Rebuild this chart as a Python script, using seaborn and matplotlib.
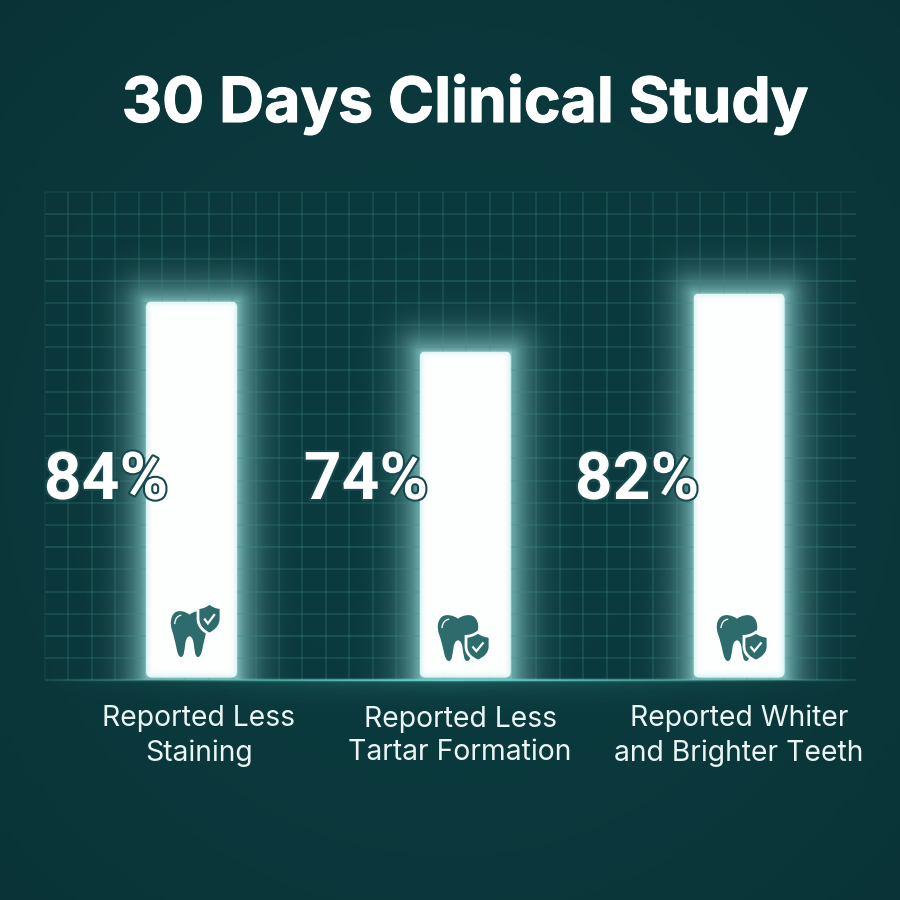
import numpy as np
import pandas as pd
import seaborn as sns
import matplotlib
matplotlib.use("Agg")
import matplotlib.pyplot as plt
import matplotlib.patheffects as pe
from matplotlib.patches import FancyBboxPatch, PathPatch
from matplotlib.path import Path
from matplotlib.transforms import Affine2D, IdentityTransform

# ===== Data =====
categories = ["Reported Less\nStaining", "Reported Less\nTartar Formation", "Reported Whiter\nand Brighter Teeth"]
bar_heights = [376, 326, 384]   # drawn height, does not follow the printed percent
pct_labels = ["84%", "74%", "82%"]
title = "30 Days Clinical Study"

BG = "#0b393d"
TEAL = "#2d6b6d"

sns.set_theme(style="dark")
plt.rcParams["font.family"] = ["Inter", "DejaVu Sans"]

fig = plt.figure(figsize=(9, 9), dpi=100, facecolor=BG)

# pixel axes for background, grid and glow
ax_bg = fig.add_axes([0, 0, 1, 1], zorder=0)
ax_bg.set_xlim(0, 900)
ax_bg.set_ylim(900, 0)
ax_bg.axis("off")

# bars: one y unit is one pixel, baseline at y=677.5
ax = fig.add_axes([54.7 / 900, (900 - 677.5) / 900, 821.25 / 900, 480 / 900], zorder=1)
df = pd.DataFrame({"claim": categories, "height": bar_heights})
sns.barplot(data=df, x="claim", y="height", color="#fdffff", saturation=1, width=0.332, ax=ax)
ax.set_xlim(-0.5, 2.5)
ax.set_ylim(0, 480)
ax.axis("off")

# overlay axes for text and icons
ax_top = fig.add_axes([0, 0, 1, 1], zorder=2)
ax_top.set_xlim(0, 900)
ax_top.set_ylim(900, 0)
ax_top.axis("off")

# ===== Background =====
yy, xx = np.mgrid[0:900, 0:900]
r = np.hypot((xx - 450) / 640, (yy - 470) / 640)
base = np.array([11, 59, 63])[None, None, :] * (1.0 - 0.14 * r[..., None] ** 2)
ax_bg.imshow(base.astype(np.uint8), extent=(0, 900, 900, 0), zorder=0, aspect="auto")

# ===== Glow around bars =====
boxes = []
glow = np.zeros((900, 900))
for bar in ax.patches:
    e = bar.get_window_extent()
    boxes.append((e.x0, 900 - e.y1, e.x1, 900 - e.y0))
    l, t, rr, b = boxes[-1]
    dx = np.maximum(np.maximum(l - xx, xx - rr), 0)
    dy = np.maximum(np.maximum(t - yy, yy - b), 0)
    d = np.hypot(dx, dy)
    g = (0.5 * np.exp(-(d / 24.0) ** 1.5) + 0.22 * np.exp(-d / 5.0)) * (yy <= b + 2)
    glow = np.maximum(glow, g)

glow_img = np.zeros((900, 900, 4))
glow_img[..., :3] = np.array([165, 232, 230]) / 255
glow_img[..., 3] = glow
ax_bg.imshow(glow_img, extent=(0, 900, 900, 0), zorder=1, aspect="auto")

# ===== Baseline under the bars =====
fade = np.clip(1 - np.abs(xx - 450) / 405, 0, 1) ** 0.8
line = np.exp(-((yy - 679.5) / 1.3) ** 2) * fade
under = 0.2 * np.exp(-np.maximum(yy - 680, 0) / 11.0) * (yy >= 680) * fade
base_img = np.zeros((900, 900, 4))
base_img[..., :3] = np.array([110, 222, 214]) / 255
base_img[..., 3] = np.clip(line * 0.85 + under, 0, 1)
ax_bg.imshow(base_img, extent=(0, 900, 900, 0), zorder=3, aspect="auto")

ax_bg.set_xlim(0, 900)
ax_bg.set_ylim(900, 0)

# ===== Grid =====
for i in range(35):
    x = 45 + i * 23.4
    edge = 0.4 if i in (0, 34) else 1.0
    ax_bg.vlines(x, 192, 680, color="#3f9088", lw=1.2, alpha=0.26 * edge, zorder=2)
for i in range(23):
    y = 192 + i * 22.2
    edge = 0.45 if i == 0 else 1.0
    ax_bg.hlines(y, 45, 856, color="#3f9088", lw=1.2, alpha=(0.34 if i % 4 == 0 else 0.27) * edge, zorder=2)

# ===== Rounded corners and pale rim on the bars =====
for bar, (l, t, rr, b) in zip(ax.patches, boxes):
    e = bar.get_window_extent()
    clip = FancyBboxPatch((e.x0 + 6, e.y0 + 6), e.width - 12, e.height - 12,
                          boxstyle="round,pad=6,rounding_size=6", transform=IdentityTransform())
    bar.set_clip_path(clip)
    for k in range(7):
        rim = FancyBboxPatch((l + 6 + k, t + 6 + k), rr - l - 12 - 2 * k, b - t - 12 - 2 * k,
                             boxstyle="round,pad=6,rounding_size=6", fc="none",
                             ec="#a9e6e4", lw=1.2, alpha=0.3 * (1 - k / 7) ** 2, zorder=1)
        ax_top.add_patch(rim)

# ===== Tooth icons =====
M, C, L, Z = Path.MOVETO, Path.CURVE4, Path.LINETO, Path.CLOSEPOLY
tooth_pts = [(.50, .10),
             (.40, .03), (.20, -.01), (.10, .06),
             (-.02, .14), (-.03, .30), (.03, .44),
             (.08, .56), (.10, .64), (.14, .78),
             (.17, .92), (.21, 1.0), (.27, 1.0),
             (.36, 1.0), (.36, .85), (.39, .70),
             (.41, .60), (.46, .56), (.50, .56),
             (.54, .56), (.59, .60), (.61, .70),
             (.64, .85), (.64, 1.0), (.73, 1.0),
             (.79, 1.0), (.83, .92), (.86, .78),
             (.90, .64), (.92, .56), (.97, .44),
             (1.03, .30), (1.02, .14), (.90, .06),
             (.80, -.01), (.60, .03), (.50, .10),
             (.50, .10)]
tooth = Path(tooth_pts, [M] + [C] * 36 + [Z])
shield_pts = [(.5, 0), (.65, .10), (.85, .15), (1, .15), (1, .5),
              (1, .75), (.75, .92), (.5, 1), (.25, .92), (0, .75), (0, .5),
              (0, .15), (.15, .15), (.35, .10), (.5, 0), (.5, 0)]
shield = Path(shield_pts, [M, C, C, C, L, C, C, C, C, C, C, L, C, C, C, Z])
check = Path([(.27, .50), (.43, .66), (.73, .36)])
shine = Path([(.10, .30), (.11, .18), (.18, .12), (.28, .11)], [M, C, C, C])

icon_boxes = [
    ((171, 610, 37, 47), (198, 603, 23, 31)),
    ((438, 614, 40, 47), (466, 632, 24, 29)),
    ((717, 614, 40, 47), (744, 632, 24, 29)),
]


def place(path, box):
    x, y, w, h = box
    return path.transformed(Affine2D().scale(w, h).translate(x, y))


for tooth_box, shield_box in icon_boxes:
    ax_top.add_patch(PathPatch(place(tooth, tooth_box), fc=TEAL, ec="none", zorder=4))
    ax_top.add_patch(PathPatch(place(shine, tooth_box), fc="none", ec="#eef8f8", lw=1.0, zorder=5))
    ax_top.add_patch(PathPatch(place(shield, shield_box), fc=TEAL, ec="#fbfefe", lw=2.0, zorder=6))
    ax_top.add_patch(PathPatch(place(check, shield_box), fc="none", ec="#fbfefe", lw=1.6, zorder=7))

# ===== Text =====
ax_top.text(465, 104, title, ha="center", va="center", color="white",
            fontsize=45, fontweight="bold", zorder=10,
            path_effects=[pe.withStroke(linewidth=0.8, foreground="white")])

pct_x = [106, 366, 637]
for x, label in zip(pct_x, pct_labels):
    ax_top.text(x, 481, label, ha="center", va="center", color="white", family=["Roboto", "DejaVu Sans"],
                fontsize=47.5, fontweight="bold", zorder=10,
                path_effects=[pe.withStroke(linewidth=3, foreground="#164a4e")])

label_x = [199, 460, 739]
for x, label in zip(label_x, categories):
    ax_top.text(x, 736, label, ha="center", va="center", color="#eaf5f4",
                fontsize=20.4, fontweight="normal", linespacing=1.33, zorder=10)

fig.savefig("out.png", dpi=100, facecolor=BG)
